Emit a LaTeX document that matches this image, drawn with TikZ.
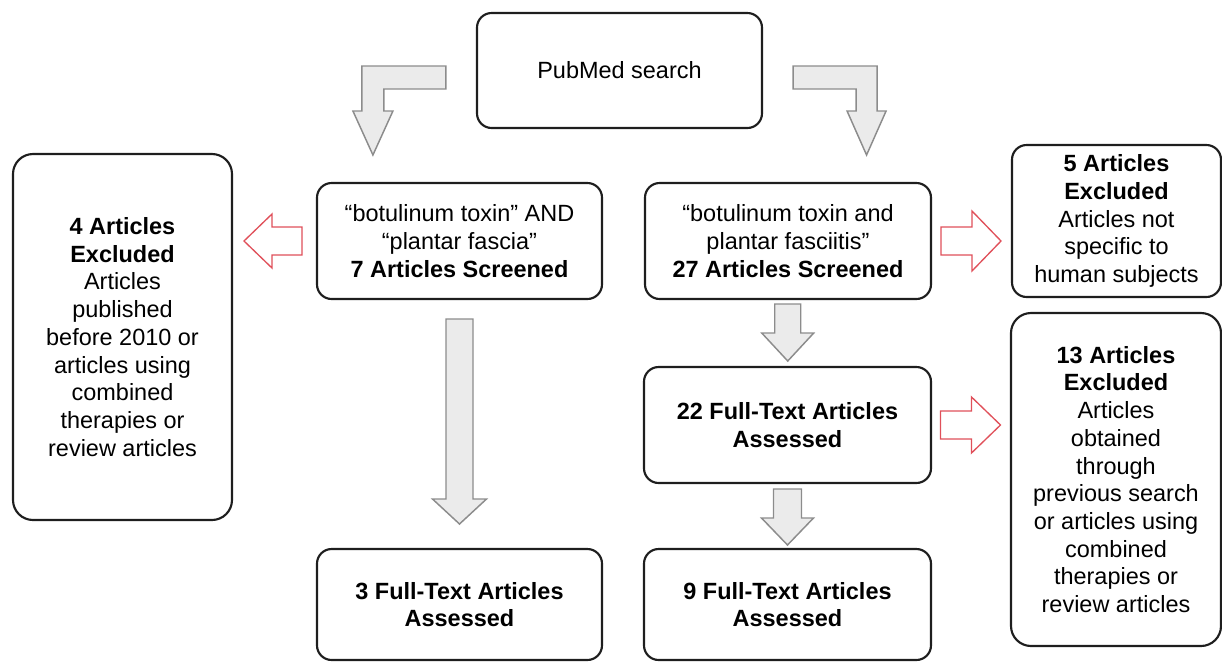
\documentclass[tikz,border=0pt]{standalone}
\usepackage{fontspec}
\setmainfont{Liberation Sans}
\usetikzlibrary{calc}
\definecolor{boxline}{HTML}{1E1E1E}
\definecolor{arrowfill}{HTML}{EBEBEB}
\definecolor{arrowline}{HTML}{8C8C8C}
\definecolor{exclline}{HTML}{E0505A}
\tikzset{every picture/.style={line width=0.75pt}}
\tikzset{
  flowbox/.style={draw=boxline, line width=1.6pt, rounded corners=11pt, inner sep=0pt, align=center, font=\fontsize{17.6}{20.8}\selectfont},
  grayarrow/.style={draw=arrowline, fill=arrowfill, line width=1.1pt},
  redarrow/.style={draw=exclline, fill=white, line width=1pt}
}
\begin{document}
\begin{tikzpicture}[x=0.75pt,y=0.75pt,yscale=-1,xscale=1]
\useasboundingbox (0,0) rectangle (1222,662);
\node[flowbox, minimum width=213.75pt, minimum height=86.25pt] (pubmed) at (619.5,70.5) {PubMed search};
\node[flowbox, minimum width=213.75pt, minimum height=87pt] (fascia) at (459.5,241) {“botulinum toxin” AND\\“plantar fascia”\\\textbf{7 Articles Screened}};
\node[flowbox, minimum width=214.5pt, minimum height=87pt] (fasciitis) at (788,241) {“botulinum toxin and\\plantar fasciitis”\\\textbf{27 Articles Screened}};
\node[flowbox, rounded corners=15pt, minimum width=164.25pt, minimum height=274.5pt] (excl4) at (122.5,337) {\textbf{4 Articles}\\\textbf{Excluded}\\Articles\\published\\before 2010 or\\articles using\\combined\\therapies or\\review articles};
\node[flowbox, minimum width=156.75pt, minimum height=114pt] (excl5) at (1116.5,221) {\textbf{5 Articles}\\\textbf{Excluded}\\Articles not\\specific to\\human subjects};
\node[flowbox, rounded corners=15pt, minimum width=157.5pt, minimum height=249.75pt] (excl13) at (1116,479.5) {\textbf{13 Articles}\\\textbf{Excluded}\\Articles\\obtained\\through\\previous search\\or articles using\\combined\\therapies or\\review articles};
\node[flowbox, minimum width=215.25pt, minimum height=87pt] (full22) at (787.5,425) {\textbf{22 Full-Text Articles}\\\textbf{Assessed}};
\node[flowbox, minimum width=213.75pt, minimum height=83.25pt] (full3) at (459.5,604.5) {\textbf{3 Full-Text Articles}\\\textbf{Assessed}};
\node[flowbox, minimum width=215.25pt, minimum height=83.25pt] (full9) at (787.5,604.5) {\textbf{9 Full-Text Articles}\\\textbf{Assessed}};
\draw[grayarrow, shift={(pubmed.west)}] (-30,-4.5) -- (-114,-4.5) -- (-114,40.5) -- (-123,40.5) -- (-103,84.5) -- (-83,40.5) -- (-92,40.5) -- (-92,18.5) -- (-30,18.5) -- cycle;
\draw[grayarrow, shift={(pubmed.east)}] (30,-4.5) -- (114,-4.5) -- (114,40.5) -- (123,40.5) -- (103.5,84.5) -- (84,40.5) -- (93,40.5) -- (93,18.5) -- (30,18.5) -- cycle;
\draw[grayarrow, shift={($(fascia.south)!0.5!(full3.north)$)}] (-13.5,-105) -- (13.5,-105) -- (13.5,75) -- (27,75) -- (0,100) -- (-27,75) -- (-13.5,75) -- cycle;
\draw[grayarrow, shift={($(fasciitis.south)!0.5!(full22.north)$)}] (-13,-29) -- (13,-29) -- (13,0) -- (26,0) -- (0,28) -- (-26,0) -- (-13,0) -- cycle;
\draw[grayarrow, shift={($(full22.south)!0.5!(full9.north)$)}] (-14,-27) -- (14,-27) -- (14,2) -- (26,2) -- (0,29) -- (-26,2) -- (-14,2) -- cycle;
\draw[redarrow, shift={($(excl4.east |- fascia.west)!0.5!(fascia.west)$)}] (27.5,-14) -- (-2.5,-14) -- (-2.5,-27) -- (-30.5,0) -- (-2.5,27) -- (-2.5,14) -- (27.5,14) -- cycle;
\draw[redarrow, shift={($(fasciitis.east)!0.5!(excl5.west |- fasciitis.east)$)}] (-30.5,-14) -- (0.5,-14) -- (0.5,-30) -- (29.5,0) -- (0.5,30) -- (0.5,14) -- (-30.5,14) -- cycle;
\draw[redarrow, shift={($(full22.east)!0.5!(excl13.west |- full22.east)$)}] (-30.5,-14) -- (0.5,-14) -- (0.5,-28) -- (29.5,0) -- (0.5,28) -- (0.5,14) -- (-30.5,14) -- cycle;
\end{tikzpicture}
\end{document}
